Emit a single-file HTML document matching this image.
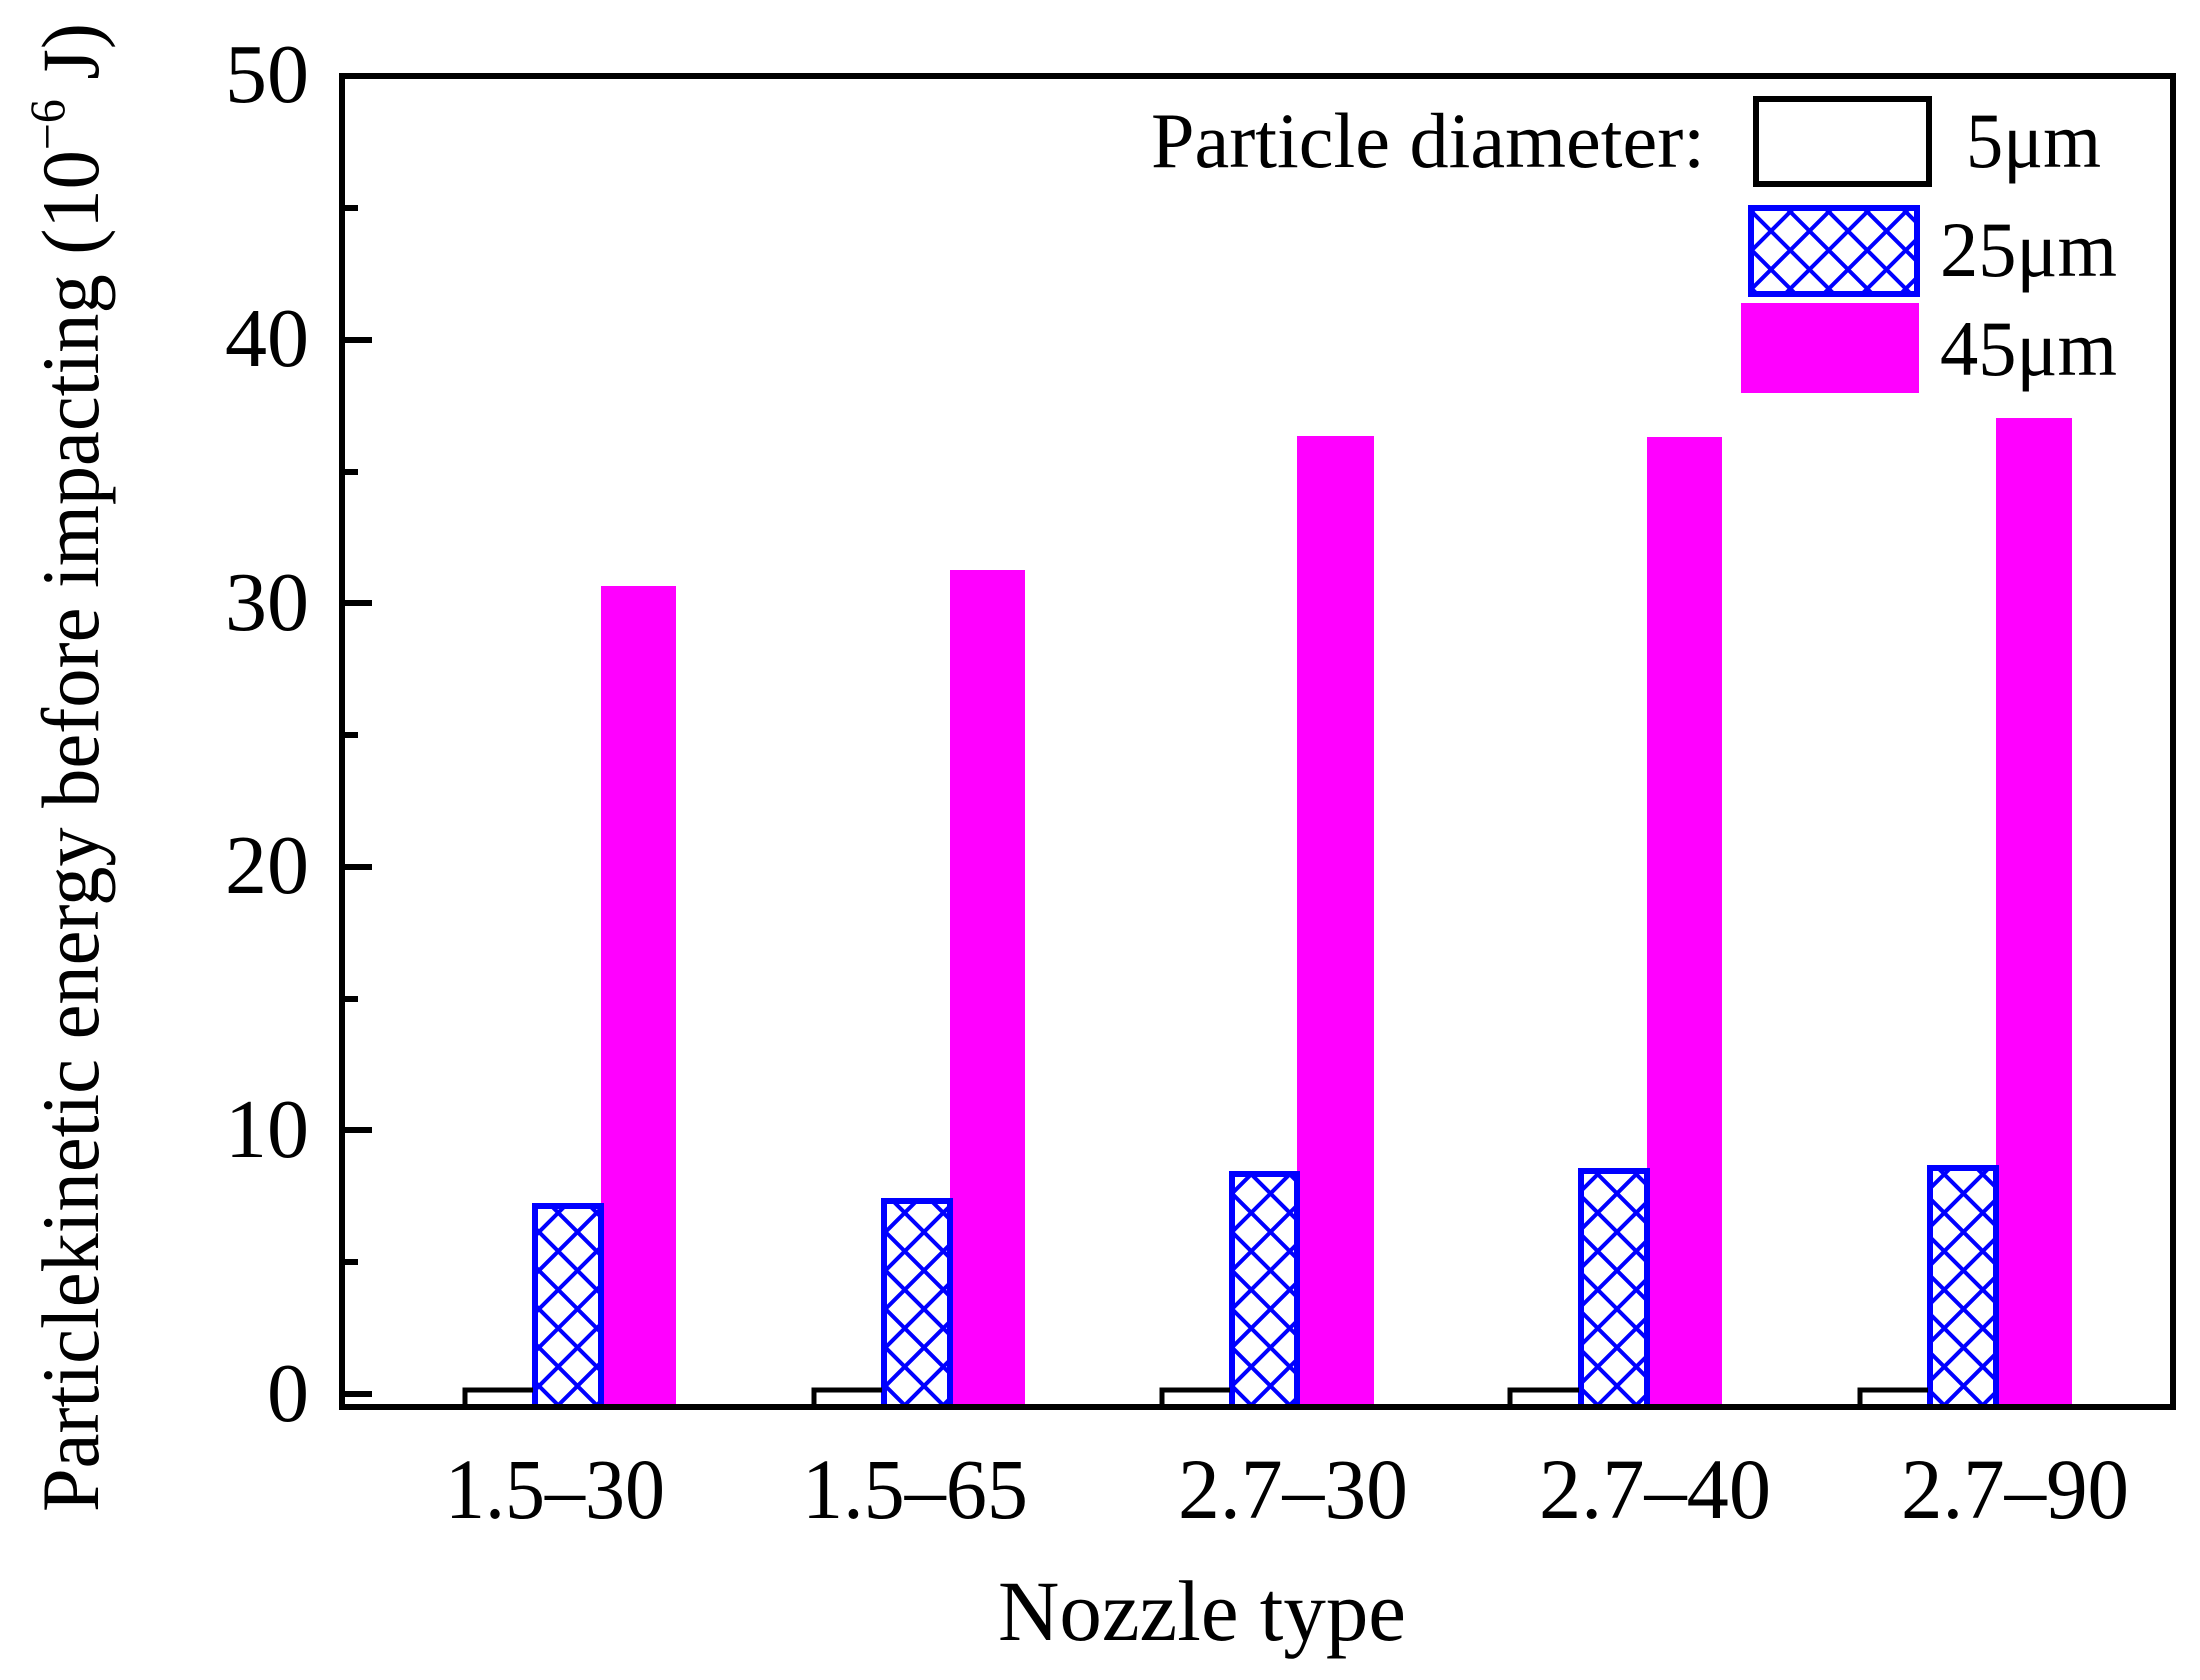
<!DOCTYPE html>
<html><head><meta charset="utf-8"><style>html,body{margin:0;padding:0;background:#fff}svg{display:block}</style></head>
<body>
<svg width="2200" height="1680" viewBox="0 0 2200 1680" xmlns="http://www.w3.org/2000/svg" font-family="'Liberation Serif', serif">
<defs>
<pattern id="h" patternUnits="userSpaceOnUse" width="38.5" height="38.5" x="0" y="0">
<path d="M0 0 L38.5 38.5 M38.5 0 L0 38.5 M-5 33.5 L5 43.5 M33.5 -5 L43.5 5" stroke="#0000ff" stroke-width="4" fill="none"/>
</pattern>
</defs>
<rect width="2200" height="1680" fill="#fff"/>
<g>
<rect x="601" y="586" width="75" height="821" fill="#ff00ff"/>
<rect x="950" y="570" width="75" height="837" fill="#ff00ff"/>
<rect x="1297" y="436" width="77" height="971" fill="#ff00ff"/>
<rect x="1647" y="437" width="75" height="970" fill="#ff00ff"/>
<rect x="1996" y="418" width="76" height="989" fill="#ff00ff"/>
</g>
<g stroke="#0000ff" stroke-width="6" fill="url(#h)">
<path d="M535 1407 V1206 H601 V1407" />
<path d="M884 1407 V1201 H950 V1407" />
<path d="M1232 1407 V1174 H1297 V1407" />
<path d="M1581 1407 V1171 H1647 V1407" />
<path d="M1930 1407 V1168 H1996 V1407" />
</g>
<g stroke="#000" stroke-width="5" fill="#fff">
<path d="M465 1407 V1390 H533"/>
<path d="M814 1407 V1390 H882"/>
<path d="M1162 1407 V1390 H1230"/>
<path d="M1510 1407 V1390 H1579"/>
<path d="M1860 1407 V1390 H1928"/>
</g>
<rect x="342" y="76" width="1831" height="1331" fill="none" stroke="#000" stroke-width="6"/>
<g stroke="#000" stroke-width="6">
<path d="M342 1394 H372 M342 1262 H358 M342 1130 H372 M342 999 H358 M342 867 H372 M342 735 H358 M342 603 H372 M342 472 H358 M342 340 H372 M342 208 H358"/>
</g>
<g font-size="84" text-anchor="end" fill="#000">
<text x="309" y="1421">0</text>
<text x="309" y="1157">10</text>
<text x="309" y="893">20</text>
<text x="309" y="630">30</text>
<text x="309" y="366">40</text>
<text x="309" y="102">50</text>
</g>
<g font-size="86" text-anchor="middle" fill="#000">
<text x="555" y="1518" textLength="220" lengthAdjust="spacingAndGlyphs">1.5–30</text>
<text x="915" y="1518" textLength="226" lengthAdjust="spacingAndGlyphs">1.5–65</text>
<text x="1293" y="1518" textLength="230" lengthAdjust="spacingAndGlyphs">2.7–30</text>
<text x="1655" y="1518" textLength="232" lengthAdjust="spacingAndGlyphs">2.7–40</text>
<text x="2015" y="1518" textLength="228" lengthAdjust="spacingAndGlyphs">2.7–90</text>
</g>
<text x="998" y="1640" font-size="86" textLength="408" lengthAdjust="spacingAndGlyphs">Nozzle type</text>
<text transform="translate(98,1512) rotate(-90)" font-size="82" textLength="1489" lengthAdjust="spacingAndGlyphs">Particlekinetic energy before impacting (10<tspan font-size="50" dy="-34">−6</tspan><tspan dy="34"> J)</tspan></text>
<text x="1151" y="167" font-size="78" textLength="554" lengthAdjust="spacingAndGlyphs">Particle diameter:</text>
<rect x="1756" y="99" width="173" height="85" fill="#fff" stroke="#000" stroke-width="6"/>
<rect x="1751" y="208" width="166" height="86" fill="url(#h)" stroke="#0000ff" stroke-width="6"/>
<rect x="1741" y="303" width="178" height="90" fill="#ff00ff"/>
<text x="1966" y="167" font-size="78" textLength="135" lengthAdjust="spacingAndGlyphs">5μm</text>
<text x="1940" y="276" font-size="78" textLength="177" lengthAdjust="spacingAndGlyphs">25μm</text>
<text x="1940" y="375" font-size="78" textLength="177" lengthAdjust="spacingAndGlyphs">45μm</text>
</svg>
</body></html>
